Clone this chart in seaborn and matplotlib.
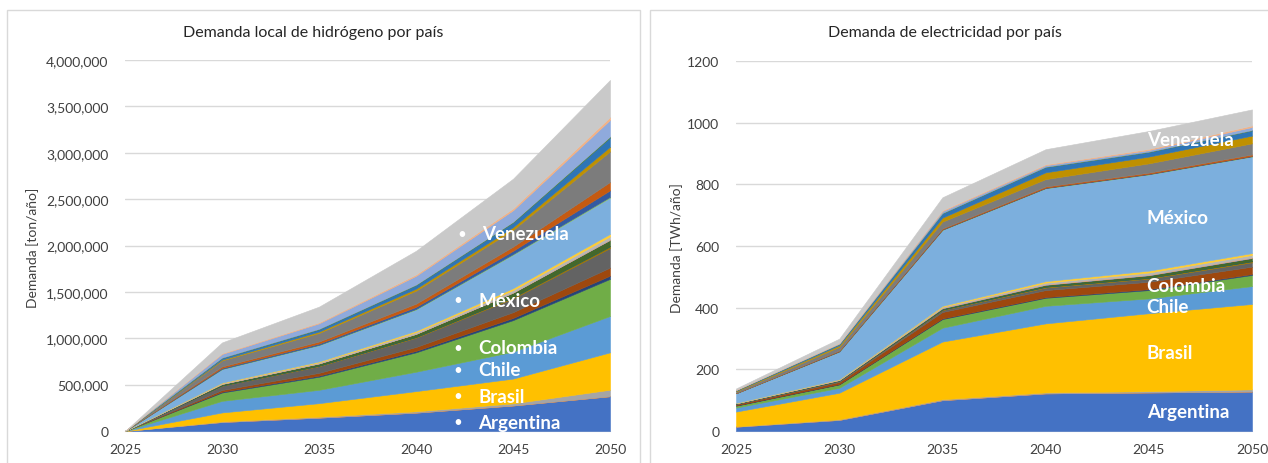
import seaborn as sns
import matplotlib.pyplot as plt
import matplotlib.ticker as ticker
from matplotlib.patches import Rectangle

years = [2025, 2030, 2035, 2040, 2045, 2050]

paises = ["Argentina", "Barbados", "Bolivia", "Brasil", "Chile", "Colombia",
          "Costa Rica", "Cuba", "Ecuador", "El Salvador", "Grenada", "Guatemala",
          "Guyana", "Haití", "Honduras", "Jamaica", "México", "Nicaragua",
          "Panamá", "Paraguay", "Perú", "República Dominicana", "Suriname",
          "Trinidad y Tobago", "Uruguay", "Otros", "Venezuela"]

# Demanda de hidrógeno (miles de t/año)
h2_argentina = [0, 97, 144, 198, 275, 375]
h2_barbados = [0, 0, 0, 0, 0, 0]
h2_bolivia = [0, 6, 10, 14, 23, 70]
h2_brasil = [0, 97, 146, 218, 267, 403]
h2_chile = [0, 125, 144, 209, 290, 392]
h2_colombia = [0, 90, 141, 209, 340, 400]
h2_costa_rica = [0, 8, 12, 16, 24, 35]
h2_cuba = [0, 19, 30, 42, 62, 87]
h2_ecuador = [0, 46, 71, 100, 148, 210]
h2_el_salvador = [0, 4, 7, 9, 14, 20]
h2_grenada = [0, 0, 0, 0, 0, 0]
h2_guatemala = [0, 15, 23, 32, 48, 68]
h2_guyana = [0, 1, 1, 1, 2, 3]
h2_haiti = [0, 1, 1, 1, 2, 3]
h2_honduras = [0, 7, 11, 17, 24, 32]
h2_jamaica = [0, 6, 9, 14, 21, 27]
h2_mexico = [0, 145, 175, 230, 360, 390]
h2_nicaragua = [0, 3, 4, 6, 8, 10]
h2_panama = [0, 10, 14, 22, 35, 70]
h2_paraguay = [0, 16, 22, 35, 45, 90]
h2_peru = [0, 65, 92, 140, 180, 330]
h2_rep_dominicana = [0, 10, 15, 22, 30, 50]
h2_suriname = [0, 17, 25, 38, 50, 100]
h2_trinidad = [0, 3, 4, 5, 7, 10]
h2_uruguay = [0, 40, 60, 95, 125, 180]
h2_otros = [0, 7, 10, 15, 20, 30]
h2_venezuela = [0, 117, 170, 255, 320, 400]

# Demanda de electricidad (TWh/año)
el_argentina = [14, 36, 100, 122, 125, 128]
el_barbados = [0, 0, 0, 0, 0, 0]
el_bolivia = [1, 2, 3, 3, 4, 7]
el_brasil = [48, 86, 187, 224, 253, 277]
el_chile = [13, 16, 45, 57, 48, 58]
el_colombia = [6, 11, 28, 26, 27, 36]
el_costa_rica = [1, 1, 2, 2, 3, 3]
el_cuba = [4, 7, 21, 23, 24, 24]
el_ecuador = [1, 3, 6, 8, 10, 14]
el_el_salvador = [0.5, 1, 2, 3, 3, 4]
el_grenada = [0, 0, 0, 0, 0, 0]
el_guatemala = [1, 2, 4, 6, 8, 10]
el_guyana = [0.3, 0.5, 1, 1, 1, 1]
el_haiti = [0.2, 0.5, 1, 1, 1, 1]
el_honduras = [0.5, 1, 3, 5, 7, 8]
el_jamaica = [0.5, 1, 3, 5, 6, 6]
el_mexico = [31, 89, 246, 301, 312, 313]
el_nicaragua = [0.3, 1, 1, 1, 1, 1]
el_panama = [0.3, 1, 1, 1, 1, 1]
el_paraguay = [0.5, 2, 3, 4, 4, 5]
el_peru = [5, 12, 22, 24, 30, 36]
el_rep_dominicana = [2, 5, 13, 22, 22, 25]
el_suriname = [2, 4, 14, 17, 15, 17]
el_trinidad = [0.2, 0.5, 1, 1, 1, 1]
el_uruguay = [1, 2, 6, 5, 5, 10]
el_otros = [0.7, 1, 3, 3, 4, 5]
el_venezuela = [4, 14, 42, 49, 58, 52]

h2_series = [h2_argentina, h2_barbados, h2_bolivia, h2_brasil, h2_chile, h2_colombia,
             h2_costa_rica, h2_cuba, h2_ecuador, h2_el_salvador, h2_grenada, h2_guatemala,
             h2_guyana, h2_haiti, h2_honduras, h2_jamaica, h2_mexico, h2_nicaragua,
             h2_panama, h2_paraguay, h2_peru, h2_rep_dominicana, h2_suriname,
             h2_trinidad, h2_uruguay, h2_otros, h2_venezuela]
h2_series = [[v * 1000 for v in s] for s in h2_series]  # a toneladas

el_series = [el_argentina, el_barbados, el_bolivia, el_brasil, el_chile, el_colombia,
             el_costa_rica, el_cuba, el_ecuador, el_el_salvador, el_grenada, el_guatemala,
             el_guyana, el_haiti, el_honduras, el_jamaica, el_mexico, el_nicaragua,
             el_panama, el_paraguay, el_peru, el_rep_dominicana, el_suriname,
             el_trinidad, el_uruguay, el_otros, el_venezuela]

# paleta por defecto de Excel (acentos, oscuros, claros...)
colores = sns.color_palette([
    "#4472C4", "#ED7D31", "#A5A5A5", "#FFC000", "#5B9BD5", "#70AD47",
    "#264478", "#9E480E", "#636363", "#997300", "#255E91", "#43682B",
    "#698ED0", "#F1975A", "#B7B7B7", "#FFCD33", "#7CAFDD", "#8CC168",
    "#335AA1", "#C55A11", "#7C7C7C", "#BF9000", "#2E75B6", "#548235",
    "#8FAADC", "#F4B183", "#C9C9C9"])

sns.set_style("white")
plt.rcParams['font.family'] = ['Lato', 'DejaVu Sans']

W, H = 1268, 464
fig = plt.figure(figsize=(W / 100, H / 100), dpi=100)

# marcos de los dos gráficos
for x0, x1 in [(7, 640), (650, 1275)]:
    fig.patches.append(Rectangle((x0 / W, -0.1), (x1 - x0) / W, (H - 11) / H + 0.1,
                                 transform=fig.transFigure, fill=False,
                                 edgecolor="#D9D9D9", linewidth=1))

ax1 = fig.add_axes([125 / W, 32 / H, 485 / W, 371 / H])
ax2 = fig.add_axes([736 / W, 32 / H, 516 / W, 370 / H])

gris_texto = "#404040"


def dibujar(ax, series, ymax, step):
    polys = ax.stackplot(years, *series, colors=colores, linewidth=0.4)
    for p in polys:
        p.set_edgecolor(p.get_facecolor())
    ax.set_xlim(2025, 2050)
    ax.set_ylim(0, ymax)
    ax.set_xticks(years)
    ax.set_yticks(range(0, ymax + 1, step))
    ax.yaxis.grid(True, color="#D9D9D9", linewidth=1)
    ax.set_axisbelow(True)
    sns.despine(ax=ax, left=True, top=True, right=True)
    ax.spines['bottom'].set_color("#D9D9D9")
    ax.tick_params(axis='x', length=0, pad=9, labelsize=10, colors=gris_texto)
    ax.tick_params(axis='y', length=0, pad=12, labelsize=10, colors=gris_texto)
    for s in ax.spines.values():
        s.set_zorder(0.5)


dibujar(ax1, h2_series, 4000000, 500000)
ax1.yaxis.set_major_formatter(ticker.FuncFormatter(lambda x, p: '{:,.0f}'.format(x)))
dibujar(ax2, el_series, 1200, 200)

fig.text(313 / W, 1 - 33 / H, "Demanda local de hidrógeno por país", ha='center', va='center',
         fontsize=11.5, color="#262626")
fig.text(945 / W, 1 - 33 / H, "Demanda de electricidad por país", ha='center', va='center',
         fontsize=11.5, color="#262626")
fig.text(33 / W, 1 - 248 / H, "Demanda [ton/año]", rotation=90, ha='center', va='center',
         fontsize=10, color=gris_texto)
fig.text(677 / W, 1 - 248 / H, "Demanda [TWh/año]", rotation=90, ha='center', va='center',
         fontsize=10, color=gris_texto)

# etiquetas de países sobre las áreas
etiquetas_h2 = [("Venezuela", 2043.4, 2124000), ("México", 2043.2, 1412000),
                ("Colombia", 2043.2, 895000), ("Chile", 2043.2, 658000),
                ("Brasil", 2043.2, 377000), ("Argentina", 2043.2, 97000)]
for txt, x, y in etiquetas_h2:
    ax1.text(x, y, txt, ha='left', va='center', fontsize=13.5, fontweight='bold', color='white')
    ax1.text(x - 1.05, y, "•", ha='center', va='center', fontsize=11, color='white')

etiquetas_el = [("Venezuela", 947), ("México", 691), ("Colombia", 473),
                ("Chile", 405), ("Brasil", 253), ("Argentina", 62)]
for txt, y in etiquetas_el:
    ax2.text(2044.9, y, txt, ha='left', va='center', fontsize=13.5, fontweight='bold', color='white')

fig.savefig("out.png", dpi=100, facecolor='white')
